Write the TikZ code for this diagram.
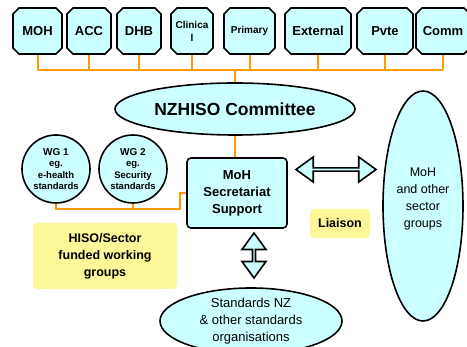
\documentclass[tikz,border=0pt]{standalone}
\usepackage{fontspec}
\setmainfont{Liberation Sans}
\usetikzlibrary{shapes.misc,shapes.geometric,shapes.arrows,backgrounds}
\definecolor{paleblue}{HTML}{CCFFFF}
\definecolor{busorange}{HTML}{FF9900}
\definecolor{noteyellow}{HTML}{FCF89A}

\begin{document}
\begin{tikzpicture}[x=1pt,y=-1pt,
    orgbox/.style={chamfered rectangle, chamfered rectangle xsep=3pt, chamfered rectangle ysep=3pt,
      draw, line width=1.6pt, fill=paleblue, minimum height=46, inner sep=1pt, align=center},
    cloud/.style={ellipse, draw, line width=1.6pt, fill=paleblue, inner sep=0pt, align=center},
    note/.style={rectangle, rounded corners=4pt, fill=noteyellow, align=center,
      font=\bfseries\fontsize{12.5}{17}\selectfont},
    bus/.style={draw=busorange, line width=2pt},
    fatarrow/.style={double arrow, draw, line width=1.6pt, fill=paleblue, inner sep=0pt,
      double arrow head extend=5.5pt, double arrow tip angle=72}]

    \useasboundingbox (0,0) rectangle (467,347);
    \clip (0,0) rectangle (467,347);

    % Organisations along the top
    \foreach \nm/\cx/\bw/\sz/\txt in {moh/37.5/49/13/MOH, acc/89/44/13/ACC, dhb/139/44/13/DHB,
        clin/192/42/10/{Clinica\\l}, prim/249.5/51/10/Primary, ext/318/66/13/External,
        pvte/385/56/13/Pvte, comm/443/54/13/Comm}
        \node[orgbox, minimum width=\bw, font=\bfseries\fontsize{\sz}{13}\selectfont] (\nm) at (\cx,31) {\txt};

    % Committee and secretariat
    \node[cloud, minimum width=240, minimum height=52, font=\bfseries\fontsize{17.5}{20}\selectfont]
        (nzhiso) at (235,109) {NZHISO Committee};
    \node[rectangle, rounded corners=4pt, draw, line width=1.6pt, fill=paleblue, minimum width=100,
        minimum height=70, align=center, font=\bfseries\fontsize{13}{17}\selectfont]
        (sec) at (237,193) {MoH\\Secretariat\\Support};

    % Working groups
    \node[cloud, circle, minimum size=68, font=\bfseries\fontsize{9.5}{11.5}\selectfont]
        (wg1) at (56,169) {{\fontsize{10}{11}\selectfont WG 1}\\eg.\\e-health\\standards};
    \node[cloud, circle, minimum size=68, font=\bfseries\fontsize{9.5}{11.5}\selectfont]
        (wg2) at (133,169) {{\fontsize{10}{11}\selectfont WG 2}\\eg.\\Security\\standards};
    \node[note, minimum width=144, minimum height=66] (hiso) at (105,256) {HISO/Sector\\funded working\\groups};

    % Other bodies
    \node[cloud, minimum width=80, minimum height=230, text depth=17pt, font=\fontsize{12.5}{17}\selectfont]
        (sector) at (423,206) {MoH\\and other\\sector\\groups};
    \node[cloud, minimum width=182, minimum height=66, font=\fontsize{13}{17}\selectfont]
        (stds) at (251,321) {Standards NZ\\\& other standards\\organisations};
    \node[note, minimum width=60, minimum height=29] (liaison) at (340,223.5) {Liaison};

    % Liaison arrows
    \node[fatarrow, minimum width=25, minimum height=80] (harrow) at (336,169.5) {};
    \node[fatarrow, shape border rotate=90, minimum width=24, minimum height=45] (varrow) at (254,255.5) {};

    % Orange links
    \begin{scope}[on background layer]
        \coordinate (busjoin) at (235,70);
        \foreach \nm in {moh,acc,dhb,clin,prim,ext,pvte,comm}
            \draw[bus] (\nm.south) -- (\nm.south |- busjoin);
        \draw[bus] (moh.south |- busjoin) -- (comm.south |- busjoin);
        \draw[bus] (busjoin) -- (nzhiso.north);
        \draw[bus] (nzhiso.south) -- (nzhiso.south |- sec.north);
        \coordinate (wgjoin) at (180,209);
        \draw[bus] (wg1.south) |- (wgjoin) |- (sec.west);
        \draw[bus] (wg2.south) -- (wg2.south |- wgjoin);
    \end{scope}

\end{tikzpicture}
\end{document}
